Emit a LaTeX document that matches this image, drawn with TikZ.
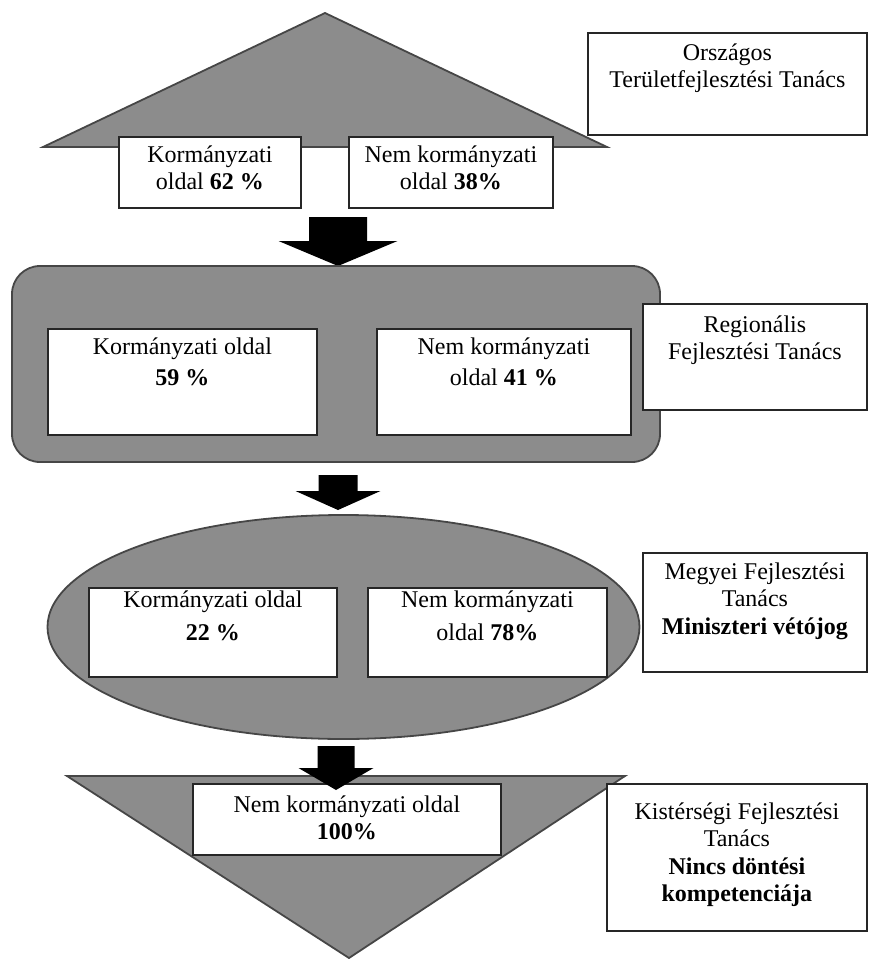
\documentclass[tikz,border=0pt]{standalone}
\usepackage{fontspec}
\setmainfont{Liberation Serif}
\usetikzlibrary{positioning,calc}
\definecolor{shgray}{RGB}{140,140,140}
\definecolor{shline}{RGB}{70,70,70}
% box with text hanging from its top edge
\newcommand{\tbox}[7]{%
  \node[box, anchor=north west, minimum width={#4*0.5pt}, minimum height={#5*0.5pt}] (#1) at (#2,#3) {};
  \node[txt, anchor=north] (#1t) at ([yshift=-#6pt]#1.north) {#7};}
% black block arrow: centre x, top, head start, tip, half shaft, half head
\newcommand{\blockarr}[6]{%
  \fill[arrfill] (#1-#5,#2) -- (#1+#5,#2) -- (#1+#5,#3) -- (#1+#6,#3) -- (#1,#4)
    -- (#1-#6,#3) -- (#1-#5,#3) -- cycle;}
\tikzset{
  box/.style={draw=black!85, line width=0.9pt, fill=white, inner sep=0pt},
  txt/.style={align=center, inner sep=0pt, font=\fontsize{12}{13.8}\selectfont},
  shp/.style={fill=shgray, draw=shline, line width=0.9pt},
  arrfill/.style={fill=black},
}

\begin{document}
\begin{tikzpicture}[x=0.5pt,y=-0.5pt]
\useasboundingbox (0,0) rectangle (871,959);
% Országos szint
\draw[shp] (43,147) -- (325,13) -- (607,147) -- cycle;
\tbox{orsz}{587}{32}{279}{102}{5.5}{Országos\\Területfejlesztési Tanács}
\tbox{kor1}{118}{136}{182}{71}{4.5}{Kormányzati\\oldal \textbf{62 \%}}
\tbox{nem1}{348}{136}{204}{71}{4.5}{Nem kormányzati\\oldal \textbf{38\%}}
\blockarr{338}{217}{241}{266}{29}{59.5}
% regionális szint
\draw[shp, rounded corners=14pt] (12,266) rectangle (660,462);
\tbox{kor2}{47}{328}{269}{106}{4.5}{Kormányzati oldal\\[2pt]\textbf{59 \%}}
\tbox{nem2}{376}{328}{254}{106}{4.5}{Nem kormányzati\\[2pt]oldal \textbf{41 \%}}
\tbox{regio}{642}{303}{224}{106}{6}{Regionális\\Fejlesztési Tanács}
\blockarr{338}{475}{491}{510}{19.5}{42.5}
% megyei szint
\draw[shp] (343.5,627) ellipse [x radius=148pt, y radius=56pt];
\tbox{kor3}{88}{587}{248}{89}{1.5}{Kormányzati oldal\\[3pt]\textbf{22 \%}}
\tbox{nem3}{367}{587}{239}{89}{1.5}{Nem kormányzati\\[3pt]oldal \textbf{78\%}}
\tbox{megyei}{642}{552}{224}{119}{5}{Megyei Fejlesztési\\Tanács\\\textbf{Miniszteri vétójog}}
% kistérségi szint
\draw[shp] (67,776) -- (625,776) -- (349,958) -- cycle;
\tbox{nem4}{192}{783}{308}{71}{6}{Nem kormányzati oldal\\\textbf{100\%}}
\tbox{kister}{606}{783}{260}{147}{9.5}{Kistérségi Fejlesztési\\Tanács\\\textbf{Nincs döntési}\\\textbf{kompetenciája}}
\blockarr{336}{746}{768}{790}{18.5}{37.5}
\end{tikzpicture}
\end{document}
